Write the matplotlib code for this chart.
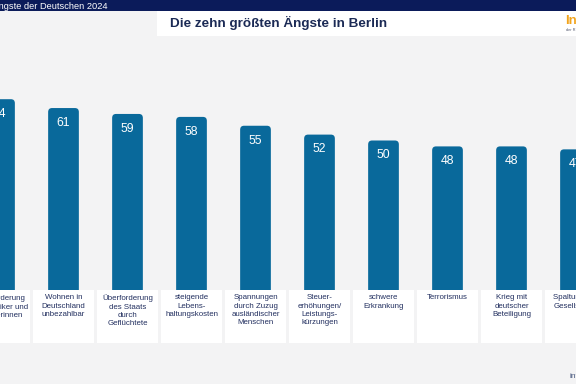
import matplotlib.pyplot as plt
from matplotlib.patches import FancyBboxPatch, Rectangle

plt.rcParams['font.family'] = ['Liberation Sans', 'DejaVu Sans']

# Daten: die zehn größten Ängste in Berlin (in Prozent)
labels = [
    'Überforderung\nder Politiker und\nPolitikerinnen',
    'Wohnen in\nDeutschland\nunbezahlbar',
    'Überforderung\ndes Staats\ndurch\nGeflüchtete',
    'steigende\nLebens-\nhaltungskosten',
    'Spannungen\ndurch Zuzug\nausländischer\nMenschen',
    'Steuer-\nerhöhungen/\nLeistungs-\nkürzungen',
    'schwere\nErkrankung',
    'Terrorismus',
    'Krieg mit\ndeutscher\nBeteiligung',
    'Spaltung der\nGesellschaft',
]
values = [64, 61, 59, 58, 55, 52, 50, 48, 48, 47]

bg = '#f3f3f4'
navy = '#0b1b5a'
bar_color = '#09699b'
text_color = '#233060'

W, H = 576, 384
fig = plt.figure(figsize=(W / 100, H / 100), dpi=100, facecolor=bg)
ax = fig.add_axes([0, 0, 1, 1])
ax.set_facecolor(bg)
ax.axis('off')

# Skala: 64 px pro Balken, 2.95 px pro Prozentpunkt, Basislinie bei y=288 px
ax.set_xlim(0.5 / 64, (W + 0.5) / 64)
ax.set_ylim(-96 / 2.95, (H - 96) / 2.95)

pos = list(range(len(values)))
bars = ax.bar(pos, values, width=0.48, color=bar_color)

# abgerundete Ecken oben
for b in bars:
    b.set_visible(False)
    x0, w, h = b.get_x(), b.get_width(), b.get_height()
    ax.add_patch(FancyBboxPatch((x0, -2), w, h + 2,
                                boxstyle='round,pad=0,rounding_size=0.06',
                                mutation_aspect=22.6, fc=bar_color, ec='none',
                                zorder=2))

for x, v in zip(pos, values):
    ax.text(x, v - 5, str(v), ha='center', va='center', color='white',
            fontsize=8.8, zorder=4)

# weiße Beschriftungsfelder unter den Balken
for x, lab in zip(pos, labels):
    ax.add_patch(Rectangle((x - 0.48, -18.6), 0.96, 17.9, fc='white',
                           ec='none', zorder=3))
    ax.text(x, -2.2, lab, ha='center', va='top', color=text_color,
            fontsize=5.7, linespacing=1.25, zorder=4)


def px(x, y):
    return x / W, 1 - y / H


# Kopfzeile
fig.patches.append(Rectangle(px(0, 10.5), 1, 10.5 / H, transform=fig.transFigure,
                             fc=navy, ec='none', zorder=5))
fig.patches.append(Rectangle(px(157, 36), (W - 157) / W, 25.5 / H,
                             transform=fig.transFigure, fc='white', ec='none',
                             zorder=5))
fig.text(*px(108, 6), 'Die Ängste der Deutschen 2024', ha='right', va='center',
         color='white', fontsize=6.7, zorder=6)
fig.text(*px(170, 23), 'Die zehn größten Ängste in Berlin', ha='left',
         va='center', color='#1b2a55', fontsize=9.7, fontweight='bold', zorder=6)
fig.text(*px(565, 21), 'Infocenter', ha='left', va='center', color='#f2a41c',
         fontsize=9.5, fontweight='bold', zorder=6)
fig.text(*px(566, 29.5), 'der R+V Versicherung', ha='left', va='center',
         color='#555a70', fontsize=2.8, zorder=6)
fig.text(*px(570, 377), 'infocenter.de', ha='left', va='center',
         color='#4a5a80', fontsize=6, zorder=6)

fig.savefig('out.png', dpi=100, facecolor=bg)
